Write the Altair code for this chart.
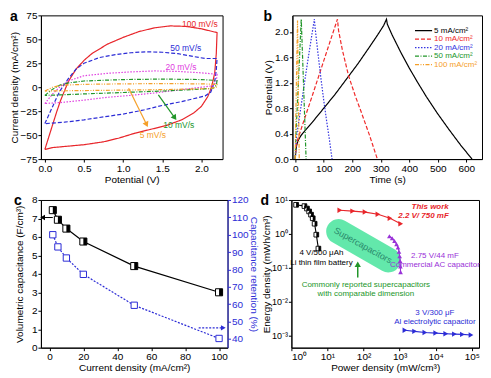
import altair as alt
import pandas as pd

FONT = "Liberation Sans"

# ---------------- panel a : cyclic voltammetry ----------------
a_rates = ["100 mV/s", "50 mV/s", "20 mV/s", "10 mV/s", "5 mV/s"]
a100_v = [0, 0.05, 0.1, 0.15, 0.2, 0.3, 0.4, 0.5, 0.6, 0.8, 1.0, 1.2, 1.4, 1.6, 1.8, 2.0, 2.1, 2.2,
          2.19, 2.17, 2.13, 2.08, 2.0, 1.9, 1.75, 1.55, 1.35, 1.15, 0.95, 0.75, 0.5, 0.3, 0.1, 0.0]
a100_i = [-65, -52, -39, -26, -14, 6, 19, 28, 35, 45, 52, 58, 62, 64, 63.5, 61, 59, 57,
          35, 15, 0, -10, -20, -27, -34, -40, -44, -48, -53, -57, -60, -61.5, -63, -65]
a50_v = [0, 0.05, 0.1, 0.15, 0.2, 0.3, 0.4, 0.5, 0.7, 0.9, 1.1, 1.3, 1.5, 1.7, 1.9, 2.05, 2.2,
         2.19, 2.17, 2.12, 2.05, 1.95, 1.75, 1.5, 1.25, 1.0, 0.75, 0.5, 0.25, 0.0]
a50_i = [-38, -29, -20, -11, -3, 9, 19, 25, 31, 34, 36, 37, 36.5, 35, 32, 30, 30,
         18, 6, -5, -9, -11, -15, -19, -24, -28, -31, -34, -36.5, -38]
a20_v = [0, 0.05, 0.1, 0.2, 0.3, 0.5, 0.8, 1.1, 1.4, 1.7, 2.0, 2.2,
         2.19, 2.15, 2.0, 1.7, 1.4, 1.1, 0.8, 0.5, 0.2, 0.0]
a20_i = [-17, -12, -7, 1, 6.5, 12, 14.5, 16, 17, 16.5, 15, 13.5,
         6, 1.5, 0, -3, -6, -8.5, -10.5, -13.5, -16, -17]
a10_v = [0, 0.1, 0.2, 0.3, 0.5, 1.0, 1.5, 2.0, 2.2, 2.19, 2.15, 2.0, 1.5, 1.0, 0.5, 0.2, 0.0]
a10_i = [-8.5, -2, 2.5, 4.5, 6.5, 8, 8.5, 8, 7, 2, -1, -2, -4, -5.5, -7, -8, -8.5]
a5_v = [0, 0.1, 0.2, 0.5, 1.0, 1.5, 2.0, 2.2, 2.19, 2.1, 1.5, 1.0, 0.5, 0.0]
a5_i = [-4, 0, 2, 3, 3.5, 3.8, 3.5, 3, 0, -1.5, -2.5, -3, -3.5, -4]
a_label_text = ["100 mV/s", "50 mV/s", "20 mV/s", "10 mV/s", "5 mV/s"]
a_label_v = [1.98, 1.80, 1.74, 1.71, 1.38]
a_label_i = [66.4, 41.3, 20.6, -39.0, -50.0]
a_arrow_v = [1.07, 1.45]
a_arrow_i = [-1.0, -8.0]
a_arrow_v2 = [1.30, 1.66]
a_arrow_i2 = [-39.0, -32.0]

# ---------------- panel b : charge / discharge ----------------
b_names = ["5 mA/cm²", "10 mA/cm²", "20 mA/cm²", "50 mA/cm²", "100 mA/cm²"]
b5_t = [0, 2, 5, 10, 20, 35, 60, 100, 140, 180, 220, 260, 290, 310, 320,
        323, 340, 370, 400, 430, 460, 500, 540, 580, 620]
b5_v = [0, 0.13, 0.22, 0.29, 0.37, 0.45, 0.58, 0.80, 1.02, 1.26, 1.50, 1.76, 1.96, 2.10, 2.2,
        2.12, 1.95, 1.68, 1.43, 1.20, 0.98, 0.71, 0.46, 0.22, 0.0]
b10_t = [0, 3, 8, 30, 60, 90, 120, 148, 152, 165, 187, 210, 233, 260, 288]
b10_v = [0, 0.2, 0.3, 0.6, 1.0, 1.41, 1.82, 2.2, 2.02, 1.72, 1.31, 1.0, 0.72, 0.38, 0]
b20_t = [0, 3, 10, 20, 35, 50, 67, 70, 80, 90, 100, 110, 120, 129]
b20_v = [0, 0.3, 0.52, 0.82, 1.28, 1.72, 2.2, 2.05, 1.65, 1.27, 0.92, 0.6, 0.3, 0]
b50_t = [0, 2, 10, 21, 23, 30, 38]
b50_v = [0, 0.35, 1.1, 2.2, 1.95, 1.05, 0]
b100_t = [0, 1, 4, 8, 9, 11, 14]
b100_v = [0, 0.4, 1.2, 2.18, 1.85, 1.0, 0]

# ---------------- panel c : rate capability ----------------
c_current = [2, 5, 10, 20, 50, 100]
c_capacitance = [7.45, 6.93, 6.45, 5.75, 4.42, 3.0]
c_retention = [100, 93, 86.6, 77.2, 59.4, 40.3]
c_arrow_left_x = [2.0]
c_arrow_left_x2 = [-4.0]
c_arrow_left_y = [7.05]
c_arrow_right_x = [88.0]
c_arrow_right_x2 = [102.5]
c_arrow_right_y = [46.4]

# ---------------- panel d : Ragone plot ----------------
d_bat_p = [1.35, 2.3, 2.7, 3.1, 3.5, 3.9, 4.4, 4.9, 5.6]
d_bat_e = [7.2, 6.6, 5.6, 4.6, 3.7, 2.9, 2.0, 0.95, 0.37]
d_this_p = [22, 50, 110, 250, 540, 1070]
d_this_e = [5.0, 4.7, 4.4, 3.8, 2.9, 2.0]
d_ac_p = [520, 620, 720, 820, 900, 960, 1000, 1030, 1050, 1060]
d_ac_e = [0.85, 0.75, 0.62, 0.5, 0.4, 0.3, 0.22, 0.16, 0.11, 0.075]
d_al_p = [1400, 2600, 5000, 10000, 19000, 33000, 55000, 95000]
d_al_e = [1.45e-3, 1.35e-3, 1.25e-3, 1.2e-3, 1.15e-3, 1.12e-3, 1.1e-3, 1.05e-3]
d_band_p = [20.4, 485]
d_band_e = [1.18, 0.17]
d_arrow_p = [69]
d_arrow_e = [0.052]
d_arrow_e2 = [0.128]

# ---------------- colours / styles / layout constants ----------------
RED = "#e8262b"
BLUE = "#2c2cd6"
MAG = "#e040e0"
GREEN = "#22962a"
ORANGE = "#f5a02a"
PURPLE = "#9932d8"
a_colors = [RED, BLUE, MAG, GREEN, ORANGE]
a_dash = [[1, 0], [4, 2], [1.5, 1.5], [4, 1.5, 1, 1.5], [4, 1.5, 1, 1.5, 1, 1.5]]
b_colors = ["#000000", "#f02a2a", "#3434e0", "#22962a", "#f5a02a"]
b_dash = [[1, 0], [4, 2], [1.5, 1.5], [4, 1.5, 1, 1.5], [4, 1.5, 1, 1.5, 1, 1.5]]
HALF = "M0,-1H1V1H0Z"
LEG_T1, LEG_T2, LEG_TL = 420, 480, 487
LEG_V = [2.02, 1.886, 1.753, 1.62, 1.486]


def letter(ch, dx):
    return alt.Chart(pd.DataFrame({"t": [ch]})).mark_text(
        fontSize=14, fontWeight="bold", font=FONT, align="left", baseline="middle"
    ).encode(x=alt.value(dx), y=alt.value(1.5), text="t:N")


# ===== panel a =====
rows = []
for name, vs, cs in zip(a_rates, [a100_v, a50_v, a20_v, a10_v, a5_v],
                        [a100_i, a50_i, a20_i, a10_i, a5_i]):
    for k, (v, c) in enumerate(zip(vs, cs)):
        rows.append({"rate": name, "V": v, "I": c, "o": k})
dfa = pd.DataFrame(rows)

xa = alt.X("V:Q", scale=alt.Scale(domain=[-0.05, 2.27], nice=False, zero=False),
           axis=alt.Axis(values=[0, 0.5, 1, 1.5, 2], format=".1f", title="Potential (V)"))
ya = alt.Y("I:Q", scale=alt.Scale(domain=[-75, 75], nice=False),
           axis=alt.Axis(values=[-75, -50, -25, 0, 25, 50, 75], title="Current density (mA/cm²)"))

a_lines = alt.Chart(dfa).mark_line(strokeWidth=1.2).encode(
    x=xa, y=ya,
    color=alt.Color("rate:N", scale=alt.Scale(domain=a_rates, range=a_colors), legend=None),
    strokeDash=alt.StrokeDash("rate:N", scale=alt.Scale(domain=a_rates, range=a_dash), legend=None),
    order="o:Q")
dfa_lab = pd.DataFrame({"V": a_label_v, "I": a_label_i, "t": a_label_text, "c": a_colors})
a_text = alt.Chart(dfa_lab).mark_text(fontSize=8.5, font=FONT).encode(
    x=xa, y=ya, text="t:N", color=alt.Color("c:N", scale=None))
dfa_arr = pd.DataFrame({"V": a_arrow_v, "I": a_arrow_i, "V2": a_arrow_v2, "I2": a_arrow_i2,
                        "c": [ORANGE, GREEN]})
a_rules = alt.Chart(dfa_arr).mark_rule(strokeWidth=1.2).encode(
    x=xa, y=ya, x2="V2:Q", y2="I2:Q", color=alt.Color("c:N", scale=None))
a_head1 = alt.Chart(pd.DataFrame({"V": a_arrow_v2[:1], "I": a_arrow_i2[:1]})).mark_point(
    shape="triangle-up", filled=True, size=40, angle=155, color=ORANGE, opacity=1).encode(x=xa, y=ya)
a_head2 = alt.Chart(pd.DataFrame({"V": a_arrow_v2[1:], "I": a_arrow_i2[1:]})).mark_point(
    shape="triangle-up", filled=True, size=40, angle=145, color=GREEN, opacity=1).encode(x=xa, y=ya)
panel_a = alt.layer(a_lines, a_rules, a_head1, a_head2, a_text, letter("a", -31)).properties(
    width=182, height=144)

# ===== panel b =====
rows = []
for name, ts, vs in zip(b_names, [b5_t, b10_t, b20_t, b50_t, b100_t],
                        [b5_v, b10_v, b20_v, b50_v, b100_v]):
    for k, (t, v) in enumerate(zip(ts, vs)):
        rows.append({"s": name, "t": t, "v": v, "o": k})
dfb = pd.DataFrame(rows)
xb = alt.X("t:Q", scale=alt.Scale(domain=[-10, 655], nice=False, zero=False),
           axis=alt.Axis(values=[0, 100, 200, 300, 400, 500, 600], title="Time (s)"))
yb = alt.Y("v:Q", scale=alt.Scale(domain=[0, 2.26], nice=False),
           axis=alt.Axis(values=[0, 0.4, 0.8, 1.2, 1.6, 2.0], format=".1f", title="Potential (V)"))
bcol = alt.Color("s:N", scale=alt.Scale(domain=b_names, range=b_colors), legend=None)
bdash = alt.StrokeDash("s:N", scale=alt.Scale(domain=b_names, range=b_dash), legend=None)
b_lines = alt.Chart(dfb).mark_line(strokeWidth=1.2).encode(
    x=xb, y=yb, color=bcol, strokeDash=bdash, order="o:Q")
dfb_leg = pd.DataFrame({"s": b_names, "t": [LEG_T1] * 5, "t2": [LEG_T2] * 5, "v": LEG_V})
dfb_legt = pd.DataFrame({"s": b_names, "t": [LEG_TL] * 5, "v": LEG_V})
b_leg_lines = alt.Chart(dfb_leg).mark_rule(strokeWidth=1.2).encode(
    x=xb, x2="t2:Q", y=yb, color=bcol, strokeDash=bdash)
b_leg_text = alt.Chart(dfb_legt).mark_text(fontSize=8, font=FONT, align="left",
                                           baseline="middle").encode(
    x=xb, y=yb, text="s:N", color=bcol)
panel_b = alt.layer(b_lines, b_leg_lines, b_leg_text, letter("b", -29)).properties(
    width=190, height=144)

# ===== panel c =====
dfc = pd.DataFrame({"x": c_current, "cap": c_capacitance, "ret": c_retention})
xc = alt.X("x:Q", scale=alt.Scale(domain=[-5, 105], nice=False, zero=False),
           axis=alt.Axis(values=[0, 20, 40, 60, 80, 100], title="Current density (mA/cm²)"))
ycl = alt.Y("cap:Q", scale=alt.Scale(domain=[0, 8], nice=False),
            axis=alt.Axis(values=list(range(0, 9)), title="Volumetric capacitance (F/cm³)",
                          titlePadding=7))
ycr = alt.Y("ret:Q", scale=alt.Scale(domain=[35, 120], nice=False, zero=False),
            axis=alt.Axis(orient="right", values=list(range(40, 121, 10)),
                          title="Capacitance retention (%)", labelColor=BLUE, titleColor=BLUE,
                          domainColor=BLUE, tickColor=BLUE, titlePadding=0))
c_line = alt.Chart(dfc).mark_line(color="black", strokeWidth=1.2).encode(x=xc, y=ycl)
c_sq = alt.Chart(dfc).mark_point(shape="square", fill="white", stroke="black", filled=False,
                                 strokeWidth=1, size=50, opacity=1).encode(x=xc, y=ycl)
c_sqh = alt.Chart(dfc).mark_point(shape=HALF, fill="black", filled=True, color="black",
                                  size=50, opacity=1).encode(x=xc, y=ycl)
dfc_al = pd.DataFrame({"x": c_arrow_left_x, "x2": c_arrow_left_x2, "cap": c_arrow_left_y})
c_al = alt.Chart(dfc_al).mark_rule(color="black", strokeWidth=1).encode(x=xc, x2="x2:Q", y=ycl)
c_alh = alt.Chart(pd.DataFrame({"x": c_arrow_left_x2, "cap": c_arrow_left_y})).mark_point(
    shape="triangle-left", filled=True, color="black", size=30, opacity=1).encode(x=xc, y=ycl)
left_c = alt.layer(c_line, c_sq, c_sqh, c_al, c_alh, letter("c", -27))

c_line2 = alt.Chart(dfc).mark_line(color=BLUE, strokeWidth=1.2, strokeDash=[2, 1.5]).encode(x=xc, y=ycr)
c_sq2 = alt.Chart(dfc).mark_point(shape="square", fill="white", stroke=BLUE, filled=False,
                                  strokeWidth=1, size=40, opacity=1).encode(x=xc, y=ycr)
dfc_ar = pd.DataFrame({"x": c_arrow_right_x, "x2": c_arrow_right_x2, "ret": c_arrow_right_y})
c_ar = alt.Chart(dfc_ar).mark_rule(color=BLUE, strokeWidth=1.2, strokeDash=[2, 1.5]).encode(
    x=xc, x2="x2:Q", y=ycr)
c_arh = alt.Chart(pd.DataFrame({"x": c_arrow_right_x2, "ret": c_arrow_right_y})).mark_point(
    shape="triangle-right", filled=True, color=BLUE, size=30, opacity=1).encode(x=xc, y=ycr)
right_c = alt.layer(c_line2, c_sq2, c_ar, c_arh)
panel_c = alt.layer(left_c, right_c).resolve_scale(y="independent").properties(width=187, height=148)

# ===== panel d =====
xd = alt.X("p:Q", scale=alt.Scale(type="log", domain=[1, 10 ** 5.2], nice=False),
           axis=alt.Axis(values=[1, 10, 100, 1000, 10000, 100000],
                         labelExpr="'10' + ['⁰','¹','²','³','⁴','⁵'][round(log(datum.value)/LN10)]",
                         title="Power density (mW/cm³)"))
yd = alt.Y("e:Q", scale=alt.Scale(type="log", domain=[10 ** -3.35, 10], nice=False),
           axis=alt.Axis(values=[0.001, 0.01, 0.1, 1, 10], labelFontSize=9,
                         labelExpr="'10' + ['⁻³','⁻²','⁻¹','⁰','¹'][round(log(datum.value)/LN10)+3]",
                         title="Energy density (mWh/cm³)", titlePadding=0))


def series(p, e, color, shape, size, half=False):
    df = pd.DataFrame({"p": p, "e": e, "o": list(range(len(p)))})
    line = alt.Chart(df).mark_line(color=color, strokeWidth=1.1).encode(x=xd, y=yd, order="o:Q")
    if half:
        pts = alt.Chart(df).mark_point(shape="square", fill="white", stroke=color, filled=False,
                                       strokeWidth=0.9, size=size, opacity=1).encode(x=xd, y=yd)
        pts2 = alt.Chart(df).mark_point(shape=HALF, filled=True, color=color, size=size,
                                        opacity=1).encode(x=xd, y=yd)
        return [line, pts, pts2]
    pts = alt.Chart(df).mark_point(shape=shape, filled=True, color=color, size=size,
                                   opacity=1).encode(x=xd, y=yd)
    return [line, pts]


band = alt.Chart(pd.DataFrame({"p": d_band_p, "e": d_band_e})).mark_line(
    color="#52e6a2", strokeWidth=25, strokeCap="round", opacity=0.9).encode(x=xd, y=yd)

d_text_rows = [
    ("This work", 2.3e4, 6.1, RED, "right", "bold", "italic", 8, 0),
    ("2.2 V/ 750 mF", 2.3e4, 3.3, RED, "right", "bold", "italic", 8, 0),
    ("4 V/500 μAh", 6.8, 0.27, "#000000", "center", "normal", "normal", 8, 0),
    ("Li thin film battery", 6.8, 0.14, "#000000", "center", "normal", "normal", 8, 0),
    ("Supercapacitors", 96, 0.46, "#2a8a6c", "center", "normal", "normal", 9, 29),
    ("Commonly reported supercapacitors", 116, 0.0316, GREEN, "center", "normal", "normal", 8, 0),
    ("with comparable dimension", 116, 0.0165, GREEN, "center", "normal", "normal", 8, 0),
    ("2.75 V/44 mF", 9500, 0.225, PURPLE, "center", "normal", "normal", 8, 0),
    ("Commercial AC capacitor", 9500, 0.12, PURPLE, "center", "normal", "normal", 8, 0),
    ("3 V/300 μF", 9500, 0.0048, BLUE, "center", "normal", "normal", 8, 0),
    ("Al electrolytic capacitor", 9500, 0.0026, BLUE, "center", "normal", "normal", 8, 0),
]
d_texts = []
for (t, p, e, col, al, fw, fs, fz, ang) in d_text_rows:
    d_texts.append(alt.Chart(pd.DataFrame({"p": [p], "e": [e], "t": [t]})).mark_text(
        font=FONT, color=col, align=al, fontWeight=fw, fontStyle=fs, fontSize=fz, angle=ang,
        baseline="middle").encode(x=xd, y=yd, text="t:N"))

d_arr = alt.Chart(pd.DataFrame({"p": d_arrow_p, "e": d_arrow_e, "e2": d_arrow_e2})).mark_rule(
    color=GREEN, strokeWidth=1.5).encode(x=xd, y=yd, y2="e2:Q")
d_arrh = alt.Chart(pd.DataFrame({"p": d_arrow_p, "e": d_arrow_e2})).mark_point(
    shape="triangle-up", filled=True, color=GREEN, size=40, opacity=1).encode(x=xd, y=yd)

d_layers = [band]
d_layers += series(d_bat_p, d_bat_e, "#000000", "square", 22, half=True)
d_layers += series(d_this_p, d_this_e, RED, "triangle-right", 30)
d_layers += series(d_ac_p, d_ac_e, PURPLE, "triangle-up", 22)
d_layers += series(d_al_p, d_al_e, BLUE, "triangle-right", 30)
d_layers += [d_arr, d_arrh] + d_texts + [letter("d", -31)]
panel_d = alt.layer(*d_layers).properties(width=188, height=148)

row1 = alt.hconcat(panel_a, panel_b, spacing=39).resolve_scale(color="independent",
                                                               strokeDash="independent")
row2 = alt.hconcat(panel_c, panel_d, spacing=0)
chart = alt.vconcat(row1, row2, spacing=-4).resolve_scale(
    color="independent", strokeDash="independent").properties(
    padding={"left": 0, "top": 1, "right": 0, "bottom": 0}
).configure_view(stroke="#000000", strokeWidth=1).configure_axis(
    labelFont=FONT, titleFont=FONT, labelFontSize=10, titleFontSize=10,
    labelColor="#000000", titleColor="#000000", tickColor="#000000", domainColor="#000000",
    tickSize=3, labelPadding=1, titlePadding=1, grid=False, titleFontWeight="normal"
).configure_text(font=FONT)

chart.save("out.html", embed_options={"renderer": "svg", "actions": False})
